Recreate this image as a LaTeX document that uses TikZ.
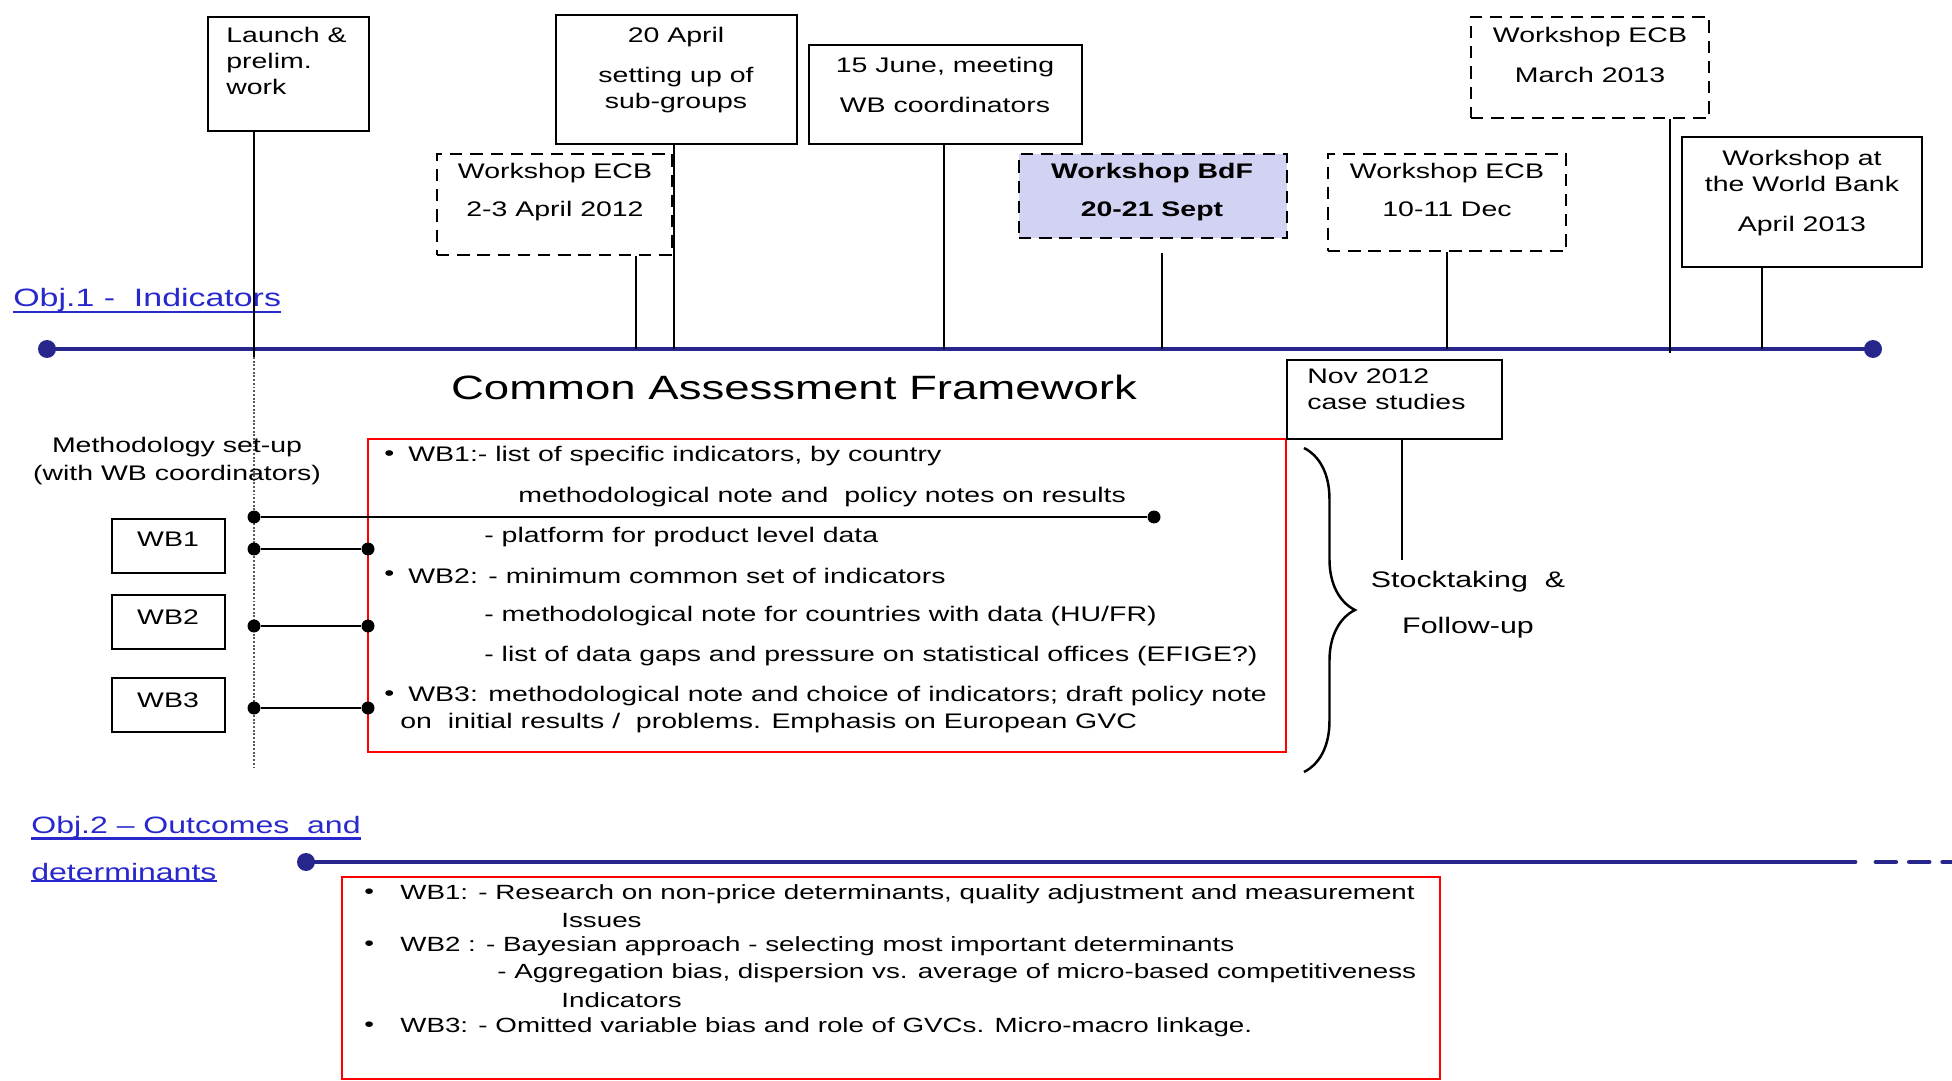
\documentclass[tikz,border=0pt]{standalone}
\usepackage{fontspec}
\setmainfont{Liberation Sans}[FakeStretch=1.35]
\usetikzlibrary{fit,decorations.pathreplacing}
\definecolor{lineblue}{RGB}{38,38,140}
\definecolor{objblue}{RGB}{40,40,205}
\definecolor{bdfblue}{RGB}{210,210,242}
\tikzset{evbox/.style={draw,line width=1.3pt,inner sep=0pt},
         ecbbox/.style={evbox,dash pattern=on 7pt off 4.5pt},
         boxtxt/.style={inner sep=0pt,anchor=north,align=center,font=\fontsize{12}{14.8}\selectfont},
         redtxt/.style={inner sep=0pt,anchor=west,font=\fontsize{12}{14.8}\selectfont},
         redtxtb/.style={redtxt,font=\fontsize{11.7}{14}\selectfont},
         redbox/.style={draw=red,line width=1.4pt,inner sep=0pt},
         stem/.style={line width=1.4pt},
         timeline/.style={lineblue,line width=2.8pt,line cap=round},
         tdot/.style={circle,fill=lineblue,inner sep=0pt,minimum size=0.36cm},
         sdot/.style={circle,fill,inner sep=0pt,minimum size=0.26cm},
         objtxt/.style={inner sep=0pt,anchor=west,objblue,font=\fontsize{13.5}{16}\selectfont},
         objline/.style={objblue,line width=1.3pt}}

\begin{document}
\begin{tikzpicture}[x=0.02cm,y=-0.02cm]
  \useasboundingbox (0,0) rectangle (1952,1081);

  % Obj.1 timeline
  \node[tdot] (s1) at (47,349) {};
  \node[tdot] (e1) at (1873,349) {};
  \draw[timeline] (s1.center) -- (e1.center);
  \node[objtxt,font=\fontsize{14.3}{16}\selectfont] (obj1) at (13,300) {Obj.1\ -\ \ Indicators};
  \draw[objline] (obj1.south west) -- (obj1.south east);

  % event boxes
  \node[evbox,fit={(208,17) (369,131)}] (launch) {};
  \node[boxtxt,anchor=north west,align=left] (launcht) at (226,27) {Launch \&\\prelim.\\work};
  \node[ecbbox,fit={(437,154) (672,255)}] (ecba) {};
  \node[boxtxt] (ecbat) at (555,163) {Workshop ECB\\[7pt]2-3 April 2012};
  \node[evbox,fit={(556,15) (797,144)}] (april) {};
  \node[boxtxt] (aprilt) at (676,27) {20 April\\[8pt]setting up of\\sub-groups};
  \node[evbox,fit={(809,45) (1082,144)}] (june) {};
  \node[boxtxt] (junet) at (945,57) {15 June, meeting\\[8pt]WB coordinators};
  \node[ecbbox,fill=bdfblue,fit={(1019,154) (1287,238)}] (bdf) {};
  \node[boxtxt,font=\fontsize{12}{14.8}\selectfont\bfseries] (bdft) at (1152,163) {Workshop BdF\\[7pt]20-21 Sept};
  \node[ecbbox,fit={(1328,154) (1566,251)}] (ecbb) {};
  \node[boxtxt] (ecbbt) at (1447,163) {Workshop ECB\\[7pt]10-11 Dec};
  \node[ecbbox,fit={(1471,17) (1709,118)}] (ecbc) {};
  \node[boxtxt] (ecbct) at (1590,27) {Workshop ECB\\[8pt]March 2013};
  \node[evbox,fit={(1682,137) (1922,267)}] (wbank) {};
  \node[boxtxt] (wbankt) at (1802,150) {Workshop at\\the World Bank\\[8pt]April 2013};

  % stems
  \coordinate (t1) at (254,357);
  \coordinate (t2) at (674,349);
  \coordinate (t3) at (636,349);
  \coordinate (t4) at (944,349);
  \coordinate (t5) at (1162,349);
  \coordinate (t6) at (1447,349);
  \coordinate (t7) at (1670,353);
  \coordinate (t8) at (1762,349);
  \coordinate (td) at (254,768);
  \draw[stem] (launch.south -| t1) -- (t1);
  \draw[stem] (ecba.south -| t3) -- (t3);
  \draw[stem] (april.south -| t2) -- (t2);
  \draw[stem] (june.south -| t4) -- (t4);
  \draw[stem] (t5) -- ++(0,-96);
  \draw[stem] (ecbb.south -| t6) -- (t6);
  \draw[stem] (ecbc.south -| t7) -- (t7);
  \draw[stem] (wbank.south -| t8) -- (t8);
  \draw[black!65,densely dotted,line width=1.1pt] (t1) -- (td);

  \node[font=\fontsize{19.2}{22}\selectfont,inner sep=0pt] (caf) at (794,387) {Common Assessment Framework};

  % methodology and work blocks
  \node[inner sep=0pt,align=center,font=\fontsize{12}{16}\selectfont] (meth) at (177,461) {Methodology set-up\\(with WB coordinators)};
  \node[evbox,fit={(112,519) (225,573)}] (wb1) {};
  \node[boxtxt] (wb1t) at (168,532) {WB1};
  \node[evbox,fit={(112,595) (225,649)}] (wb2) {};
  \node[boxtxt] (wb2t) at (168,609) {WB2};
  \node[evbox,fit={(112,678) (225,732)}] (wb3) {};
  \node[boxtxt] (wb3t) at (168,692) {WB3};

  \node[redbox,fit={(368,439) (1286,752)}] (cafbox) {};
  \node[sdot] (m0) at (254,517) {};
  \node[sdot] (m1) at (1154,517) {};
  \draw[stem] (m0) -- (m1);
  \node[sdot] (a0) at (254,549) {};
  \node[sdot] (a1) at (368,549) {};
  \draw[stem] (a0) -- (a1);
  \node[sdot] (b0) at (254,626) {};
  \node[sdot] (b1) at (368,626) {};
  \draw[stem] (b0) -- (b1);
  \node[sdot] (c0) at (254,708) {};
  \node[sdot] (c1) at (368,708) {};
  \draw[stem] (c0) -- (c1);

  \node[redtxt] (rb1) at (384,456) {•};
  \node[redtxt] (r1) at (408,456) {WB1:- list of specific indicators, by country};
  \node[redtxt] (r2) at (518,497) {methodological note and\ \ policy notes on results};
  \node[redtxt] (r3) at (484,537) {- platform for product level data};
  \node[redtxt] (rb2) at (384,576) {•};
  \node[redtxt] (r4) at (408,576) {WB2: - minimum common set of indicators};
  \node[redtxt] (r5) at (484,616) {- methodological note for countries with data (HU/FR)};
  \node[redtxt] (r6) at (484,656) {- list of data gaps and pressure on statistical offices (EFIGE?)};
  \node[redtxt] (rb3) at (384,696) {•};
  \node[redtxt] (r7) at (408,696) {WB3: methodological note and choice of indicators; draft policy note};
  \node[redtxt] (r8) at (400,723) {on\ \ initial results /\ \ problems. Emphasis on European GVC};

  % case studies and follow-up
  \node[evbox,fit={(1287,360) (1502,439)}] (nov) {};
  \node[boxtxt,anchor=north west,align=left] (novt) at (1307,368) {Nov 2012\\case studies};
  \coordinate (st) at (1402,560);
  \draw[stem] (nov.south -| st) -- (st);
  \coordinate (br0) at (1304,448);
  \coordinate (br1) at (1304,772);
  \draw[stem,decorate,decoration={brace,amplitude=29pt}] (br0) -- (br1);
  \node[inner sep=0pt,font=\fontsize{12.8}{15}\selectfont] (stock) at (1468,582) {Stocktaking\ \ \&};
  \node[inner sep=0pt,font=\fontsize{12.8}{15}\selectfont] (follow) at (1468,628) {Follow-up};

  % Obj.2 timeline
  \node[objtxt] (obj2a) at (31,827) {Obj.2 – Outcomes\ \ and};
  \draw[objline] (obj2a.south west) -- (obj2a.south east);
  \node[objtxt] (obj2b) at (31,872) {determinants};
  \draw[objline] (obj2b.south west) -- (obj2b.south east);
  \node[tdot] (s2) at (306,862) {};
  \coordinate (e2) at (1855,862);
  \coordinate (d2) at (1876,862);
  \coordinate (f2) at (1960,862);
  \draw[timeline] (s2.center) -- (e2);
  \draw[timeline,dash pattern=on 11.2pt off 7.8pt] (d2) -- (f2);

  \node[redbox,fit={(342,877) (1440,1079)}] (detbox) {};
  \node[redtxtb] (db1) at (364,894) {•};
  \node[redtxtb] (d1) at (400,894) {WB1: - Research on non-price determinants, quality adjustment and measurement};
  \node[redtxtb] (d1b) at (561,921) {Issues};
  \node[redtxtb] (db2) at (364,946) {•};
  \node[redtxtb] (d2t) at (400,946) {WB2 : - Bayesian approach - selecting most important determinants};
  \node[redtxtb] (d3) at (497,973) {- Aggregation bias, dispersion vs. average of micro-based competitiveness};
  \node[redtxtb] (d3b) at (561,1000) {Indicators};
  \node[redtxtb] (db3) at (364,1027) {•};
  \node[redtxtb] (d4) at (400,1027) {WB3: - Omitted variable bias and role of GVCs. Micro-macro linkage.};
\end{tikzpicture}
\end{document}
